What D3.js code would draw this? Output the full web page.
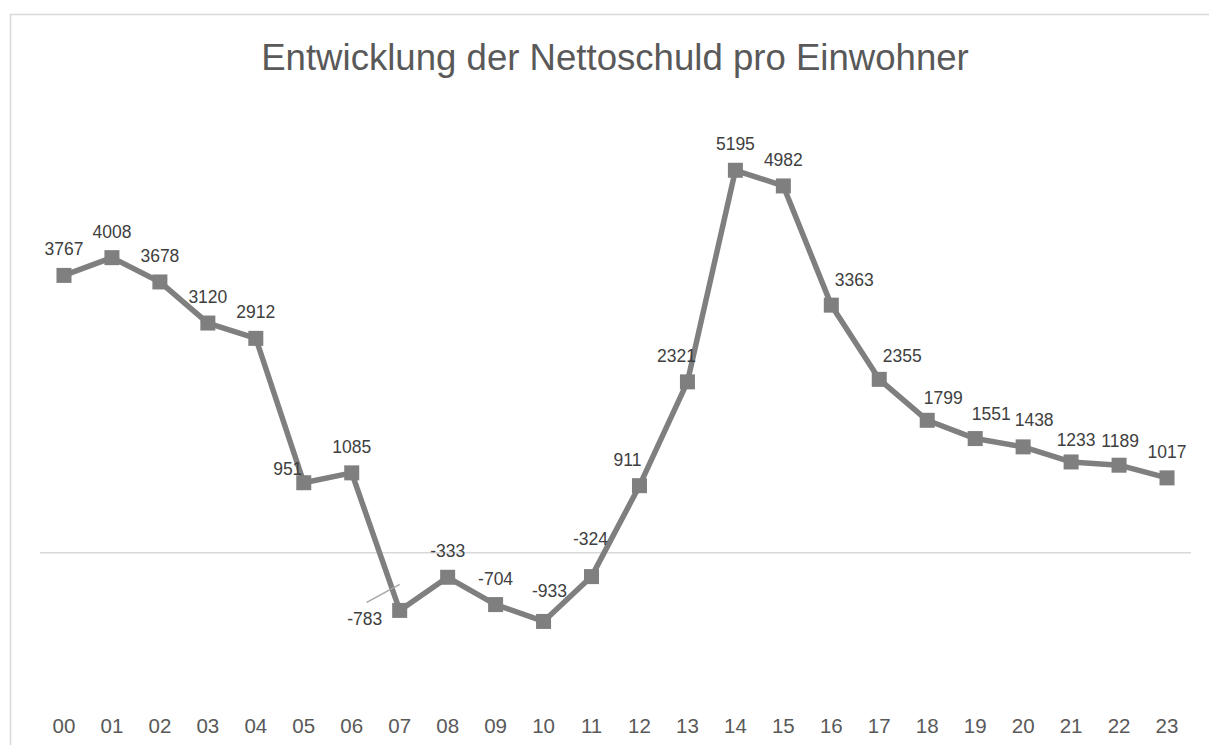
<!DOCTYPE html>
<html lang="de">
<head>
    <meta charset="UTF-8">
    <title>Nettoschuld pro Einwohner</title>
    <script type="text/javascript" src="https://cdn.jsdelivr.net/npm/d3@7"></script>
    <style>
        body { margin: 0; background: #fff; }
        text { font-family: "Liberation Sans", Arial, sans-serif; }
    </style>
</head>
<body>
<script type="text/javascript">
    // data
    var years = ["00", "01", "02", "03", "04", "05", "06", "07", "08", "09", "10", "11",
                 "12", "13", "14", "15", "16", "17", "18", "19", "20", "21", "22", "23"];
    var debt = [3767, 4008, 3678, 3120, 2912, 951, 1085, -783, -333, -704, -933, -324,
                911, 2321, 5195, 4982, 3363, 2355, 1799, 1551, 1438, 1233, 1189, 1017];
    var title = "Entwicklung der Nettoschuld pro Einwohner";

    var w = 1209;
    var h = 745;
    var grey = "#7f7f7f";

    // hand-moved labels (offset from the default "above" spot)
    var labelShift = {
        "05": [-16, 12], "07": [-35, 35], "10": [6, -4], "11": [-1, -12],
        "12": [-12, 0], "13": [-11, 0], "16": [23, 1], "17": [23, 3],
        "18": [16, 4], "19": [16, 1], "20": [11, -1], "21": [5, 4], "22": [1, 2]
    };

    var svg = d3.select("body")
        .append("svg")
        .attr("width", w)
        .attr("height", h);

    // chart frame, runs off the right and bottom edge
    svg.append("rect")
        .attr("x", 10.5)
        .attr("y", 14.5)
        .attr("width", 1400)
        .attr("height", 900)
        .attr("fill", "none")
        .attr("stroke", "#d9d9d9")
        .attr("stroke-width", 1.5);

    svg.append("text")
        .attr("x", 615)
        .attr("y", 70)
        .attr("text-anchor", "middle")
        .attr("font-size", 36.6)
        .attr("fill", "#595959")
        .text(title);

    var x = d3.scaleBand().domain(years).range([40, 1191]);
    var y = d3.scaleLinear().domain([-2000, 6000]).range([700, 111]);
    var cx = function (d, i) { return x(years[i]) + x.bandwidth() / 2; };

    // zero line
    svg.append("line")
        .attr("x1", 40).attr("x2", 1191)
        .attr("y1", y(0)).attr("y2", y(0))
        .attr("stroke", "#d9d9d9")
        .attr("stroke-width", 1.5);

    // category labels at the bottom
    var xAxis = svg.append("g")
        .attr("transform", "translate(0,715)")
        .call(d3.axisBottom(x).tickSize(0).tickPadding(3));
    xAxis.select(".domain").remove();
    xAxis.selectAll("text")
        .attr("font-family", "Liberation Sans, Arial, sans-serif")
        .attr("font-size", 20.5)
        .attr("fill", "#595959");

    var line = d3.line()
        .x(cx)
        .y(function (d) { return y(d); });

    svg.append("path")
        .datum(debt)
        .attr("d", line)
        .attr("fill", "none")
        .attr("stroke", grey)
        .attr("stroke-width", 5.5)
        .attr("stroke-linejoin", "round");

    svg.selectAll("rect.mark")
        .data(debt)
        .enter()
        .append("rect")
        .attr("class", "mark")
        .attr("x", function (d, i) { return cx(d, i) - 7.5; })
        .attr("y", function (d) { return y(d) - 7.5; })
        .attr("width", 15)
        .attr("height", 15)
        .attr("fill", grey);

    // leader line for the moved -783 label
    var i07 = years.indexOf("07");
    svg.append("line")
        .attr("x1", cx(0, i07) - 33).attr("y1", y(debt[i07]) - 8)
        .attr("x2", cx(0, i07)).attr("y2", y(debt[i07]) - 26)
        .attr("stroke", "#a6a6a6")
        .attr("stroke-width", 1.5);

    svg.selectAll("text.lbl")
        .data(debt)
        .enter()
        .append("text")
        .attr("class", "lbl")
        .text(function (d) { return d; })
        .attr("x", function (d, i) {
            var s = labelShift[years[i]];
            return cx(d, i) + (s ? s[0] : 0);
        })
        .attr("y", function (d, i) {
            var s = labelShift[years[i]];
            return y(d) - 20 + (s ? s[1] : 0);
        })
        .attr("text-anchor", "middle")
        .attr("font-size", 17.5)
        .attr("fill", "#404040");
</script>
</body>
</html>
